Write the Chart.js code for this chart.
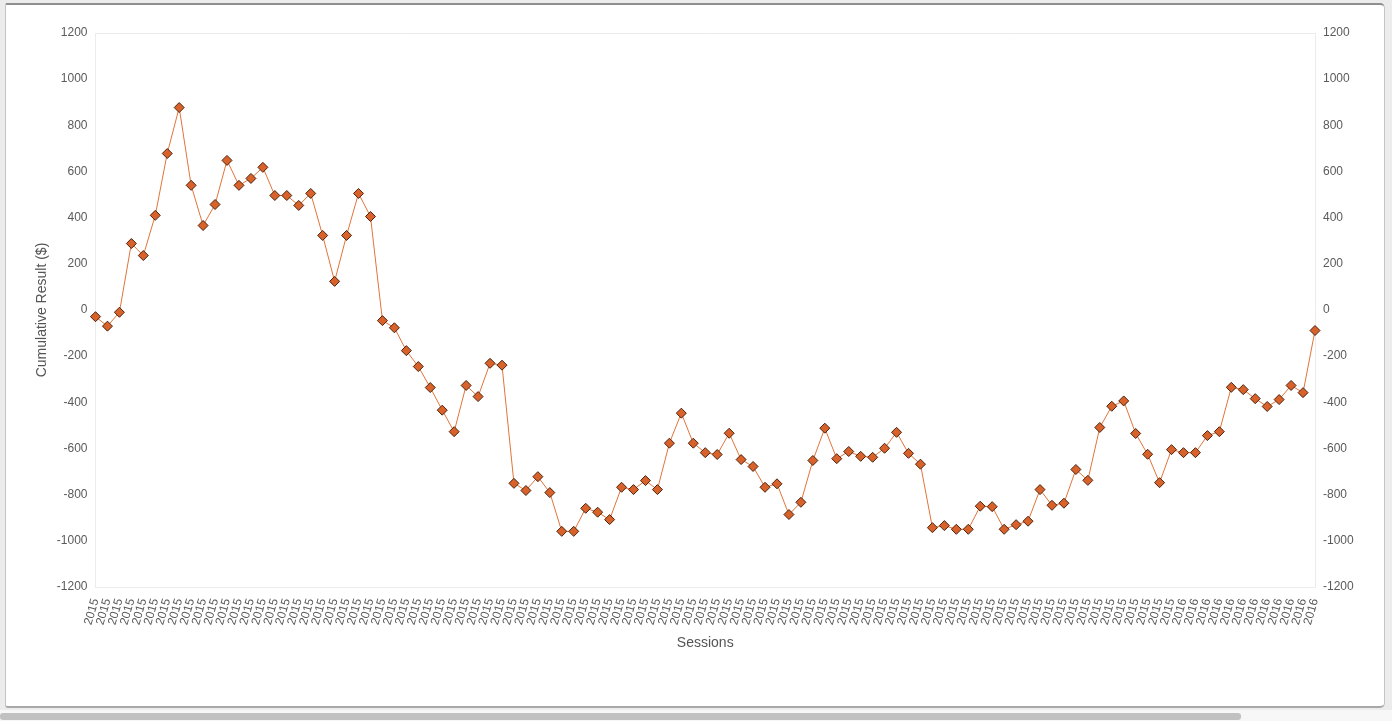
<!DOCTYPE html>
<html>
<head>
<meta charset="utf-8">
<script src="https://cdn.jsdelivr.net/npm/chart.js@4/dist/chart.umd.min.js"></script>
<style>
  html, body { margin: 0; padding: 0; width: 1392px; height: 721px; overflow: hidden; background: #ececec; }
  #frame {
    position: absolute; left: 5px; top: 3px; width: 1378px; height: 701px;
    background: #fff; border: 1px solid #c4c4c4; border-top: 2px solid #8e8e8e; border-bottom: 2px solid #a8a8a8;
    border-radius: 2px 5px 5px 3px;
  }
  #track { position: absolute; left: 0; top: 710px; width: 1392px; height: 11px; background: #f7f7f7; }
  #thumb { position: absolute; left: 0; top: 713px; width: 1241px; height: 7px; background: #c1c1c1; border-radius: 3px; }
  #wrap { position: absolute; left: 0; top: 0; width: 1392px; height: 721px; }
</style>
</head>
<body>
<div id="frame"></div>
<div id="track"></div>
<div id="thumb"></div>
<div id="wrap"><canvas id="chart-sessions"></canvas></div>
<script>
// ===== DADOS =====
// rótulos do eixo X: 91 sessões em 2015, 12 em 2016
const sessionLabels = [...Array(91).fill('2015'), ...Array(12).fill('2016')];

// resultado acumulado por sessão ($)
const cumulativeResult = [
    -29, -70, -10, 288, 236, 410, 678, 877, 540, 366,
    457, 648, 540, 570, 618, 496, 496, 453, 505, 323,
    124, 323, 505, 405, -46, -77, -176, -245, -336, -434,
    -527, -327, -375, -231, -239, -751, -782, -722, -791, -959,
    -959, -859, -876, -908, -768, -778, -739, -778, -577, -447,
    -577, -618, -626, -534, -648, -678, -768, -753, -886, -833,
    -652, -512, -644, -613, -634, -638, -599, -530, -621, -668,
    -943, -934, -950, -950, -850, -852, -950, -930, -915, -778,
    -846, -837, -691, -738, -509, -417, -394, -535, -625, -748,
    -605, -618, -618, -544, -527, -335, -345, -384, -418, -388,
    -327, -358, -89
];

const yMin = -1200;
const yMax = 1200;
const yStep = 200;

// ===== ESTILO =====
const tickFont = { family: '"Liberation Sans", Arial, sans-serif', size: 12 };
const titleFont = { family: '"Liberation Sans", Arial, sans-serif', size: 14 };
const tickColor = '#5a5a5a';
const edgeColor = '#ececec';

const edgeGrid = {
    drawTicks: false,
    color: ctx => (ctx.tick && (ctx.tick.value === yMin || ctx.tick.value === yMax)) ? edgeColor : 'transparent'
};

// sem separador de milhar: "1200", "-1000"
const plainNumber = value => String(value);

new Chart(document.getElementById('chart-sessions'), {
    type: 'line',
    data: {
        labels: sessionLabels,
        datasets: [{
            label: 'Cumulative Result',
            data: cumulativeResult,
            borderColor: '#e2733a',
            borderWidth: 1,
            backgroundColor: '#d9622b',
            pointStyle: 'rectRot',
            pointRadius: 5,
            pointBorderColor: '#4a230e',
            pointBorderWidth: 1,
            pointBackgroundColor: '#d9622b',
            tension: 0,
            fill: false
        }]
    },
    options: {
        responsive: true,
        maintainAspectRatio: false,
        animation: false,
        layout: { padding: { left: 30, right: 17, top: 33, bottom: 65 } },
        plugins: {
            legend: { display: false },
            tooltip: { enabled: false }
        },
        scales: {
            x: {
                offset: false,
                grid: { display: false, drawTicks: false },
                border: { display: true, color: edgeColor },
                ticks: {
                    autoSkip: false,
                    minRotation: 74,
                    maxRotation: 74,
                    padding: 10,
                    color: tickColor,
                    font: tickFont
                },
                title: { display: true, text: 'Sessions', color: '#555', font: titleFont, padding: { top: 0, bottom: 4 } },
                afterFit: scale => { scale.height = 69; }
            },
            y: {
                position: 'left',
                min: yMin,
                max: yMax,
                grid: edgeGrid,
                border: { display: true, color: edgeColor },
                ticks: { stepSize: yStep, padding: 8, color: tickColor, font: tickFont, callback: plainNumber },
                title: { display: true, text: 'Cumulative Result ($)', color: '#555', font: titleFont, padding: { top: 4, bottom: 4 } },
                afterFit: scale => { scale.width = 65.5; }
            },
            y2: {
                position: 'right',
                min: yMin,
                max: yMax,
                grid: { display: false, drawTicks: false },
                border: { display: true, color: edgeColor },
                ticks: { stepSize: yStep, padding: 8, color: tickColor, font: tickFont, callback: plainNumber },
                afterFit: scale => { scale.width = 60; }
            }
        }
    }
});
</script>
</body>
</html>
